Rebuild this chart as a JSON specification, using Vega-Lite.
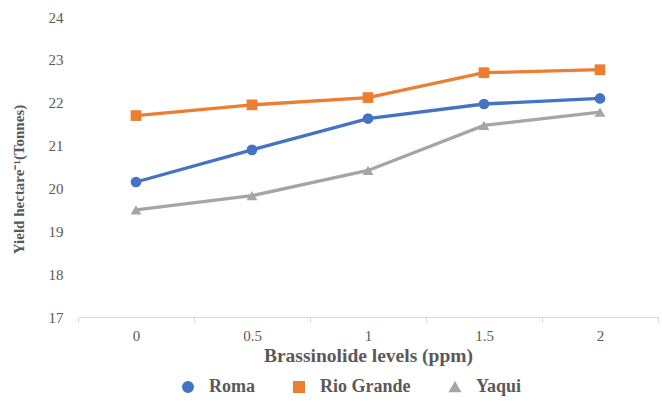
{
  "$schema": "https://vega.github.io/schema/vega-lite/v6.json",
  "width": 580,
  "height": 300,
  "autosize": {"type": "none"},
  "padding": {"left": 78, "top": 17, "right": 4, "bottom": 90},
  "background": "white",
  "config": {
    "view": {"stroke": null},
    "font": "'Liberation Serif', 'Times New Roman', serif"
  },
  "data": {
    "values": [
      {"ppm": "0", "variety": "Roma", "yield": 20.15},
      {"ppm": "0.5", "variety": "Roma", "yield": 20.9},
      {"ppm": "1", "variety": "Roma", "yield": 21.63},
      {"ppm": "1.5", "variety": "Roma", "yield": 21.97},
      {"ppm": "2", "variety": "Roma", "yield": 22.1},
      {"ppm": "0", "variety": "Rio Grande", "yield": 21.7},
      {"ppm": "0.5", "variety": "Rio Grande", "yield": 21.95},
      {"ppm": "1", "variety": "Rio Grande", "yield": 22.12},
      {"ppm": "1.5", "variety": "Rio Grande", "yield": 22.7},
      {"ppm": "2", "variety": "Rio Grande", "yield": 22.77},
      {"ppm": "0", "variety": "Yaqui", "yield": 19.5},
      {"ppm": "0.5", "variety": "Yaqui", "yield": 19.83},
      {"ppm": "1", "variety": "Yaqui", "yield": 20.42},
      {"ppm": "1.5", "variety": "Yaqui", "yield": 21.47},
      {"ppm": "2", "variety": "Yaqui", "yield": 21.78}
    ]
  },
  "encoding": {
    "x": {
      "field": "ppm",
      "type": "ordinal",
      "bandPosition": 0.5,
      "scale": {"type": "band", "paddingInner": 0, "paddingOuter": 0},
      "sort": ["0", "0.5", "1", "1.5", "2"],
      "axis": {
        "title": "Brassinolide levels (ppm)",
        "titleFont": "'Liberation Serif', 'Times New Roman', serif",
        "titleFontSize": 19.5,
        "titleFontWeight": "bold",
        "titleColor": "#595959",
        "titlePadding": 3,
        "labelAngle": 0,
        "labelFont": "'Liberation Serif', 'Times New Roman', serif",
        "labelFontSize": 15,
        "labelColor": "#595959",
        "labelPadding": 6,
        "tickBand": "extent",
        "domainColor": "#D9D9D9",
        "tickColor": "#D9D9D9",
        "tickSize": 5,
        "grid": false
      }
    },
    "y": {
      "field": "yield",
      "type": "quantitative",
      "scale": {"domain": [17, 24], "nice": false, "zero": false},
      "axis": {
        "title": "Yield hectare⁻¹(Tonnes)",
        "titleFont": "'Liberation Serif', 'Times New Roman', serif",
        "titleFontSize": 15,
        "titleFontWeight": "bold",
        "titleColor": "#595959",
        "titleX": -60,
        "titleY": 162,
        "titleAngle": -90,
        "titleBaseline": "middle",
        "titleAlign": "center",
        "values": [17, 18, 19, 20, 21, 22, 23, 24],
        "labelOverlap": false,
        "labelFlush": false,
        "labelBound": false,
        "labelFont": "'Liberation Serif', 'Times New Roman', serif",
        "labelFontSize": 15,
        "labelColor": "#595959",
        "labelPadding": 15,
        "ticks": false,
        "domain": false,
        "grid": false
      }
    },
    "color": {
      "field": "variety",
      "type": "nominal",
      "scale": {"domain": ["Roma", "Rio Grande", "Yaqui"], "range": ["#4472C4", "#ED7D31", "#A5A5A5"]},
      "legend": {
        "title": null,
        "orient": "none",
        "direction": "horizontal",
        "legendX": 101,
        "legendY": 361,
        "labelFont": "'Liberation Serif', 'Times New Roman', serif",
        "labelFontSize": 18,
        "labelFontWeight": "bold",
        "labelColor": "#595959",
        "symbolSize": 110,
        "columnPadding": 35,
        "labelOffset": 12
      }
    },
    "shape": {
      "field": "variety",
      "type": "nominal",
      "scale": {"domain": ["Roma", "Rio Grande", "Yaqui"], "range": ["circle", "square", "triangle-up"]},
      "legend": null
    }
  },
  "layer": [
    {"mark": {"type": "line", "strokeWidth": 3.3}},
    {"mark": {"type": "point", "filled": true, "opacity": 1, "size": 115}}
  ]
}
